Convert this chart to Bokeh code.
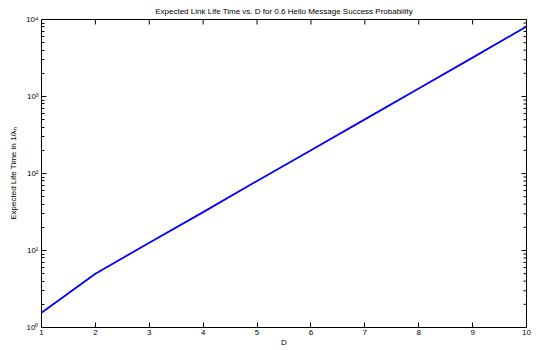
import math
from bokeh.plotting import figure
from bokeh.models import FixedTicker, Range1d
from bokeh.embed import file_html
from bokeh.resources import INLINE

# ---- data ----
D = [1, 2, 3, 4, 5, 6, 7, 8, 9, 10]
life_time = [1.55, 5.0, 12.6, 31.5, 80, 200, 505, 1270, 3200, 8100]

x_ticks = [1, 2, 3, 4, 5, 6, 7, 8, 9, 10]
y_ticks = [1, 10, 100, 1000, 10000]
y_tick_labels = ["10\u2070", "10\u00b9", "10\u00b2", "10\u00b3", "10\u2074"]
y_minor = [m * 10 ** k for k in range(4) for m in range(2, 10)]

title_text = "Expected Link Life Time vs. D for 0.6 Hello Message Success Probability"
x_label = "D"
y_label = "Expected Life Time in 1/\u03bb\u2095"

FONT = "Liberation Sans"
FS = "8px"

x_min, x_max = x_ticks[0], x_ticks[-1]
y_min, y_max = y_ticks[0], y_ticks[-1]

p = figure(width=537, height=350,
           x_range=Range1d(x_min, x_max), y_range=Range1d(y_min, y_max),
           y_axis_type="log", output_backend="svg",
           toolbar_location=None, tools="")
p.min_border_left = 41
p.min_border_right = 11
p.min_border_top = 18
p.min_border_bottom = 23
p.background_fill_color = "white"
p.border_fill_color = "white"
p.outline_line_color = "black"
p.outline_line_width = 1
p.xgrid.visible = False
p.ygrid.visible = False

p.title.text = title_text
p.title.align = "center"
p.title.text_font = FONT
p.title.text_font_size = FS
p.title.text_font_style = "normal"
p.title.text_color = "black"
p.title.offset = 0
p.title.standoff = 8

xt = FixedTicker(ticks=x_ticks, minor_ticks=[])
yt = FixedTicker(ticks=y_ticks, minor_ticks=y_minor)


def style(ax):
    ax.axis_line_color = "black"
    ax.axis_line_width = 1
    ax.major_tick_line_color = "black"
    ax.minor_tick_line_color = "black"
    ax.major_tick_in = 5
    ax.major_tick_out = 0
    ax.minor_tick_in = 3
    ax.minor_tick_out = 0
    ax.major_label_text_font = FONT
    ax.major_label_text_font_size = FS
    ax.major_label_text_color = "black"
    ax.major_label_standoff = 3
    ax.axis_label_text_font = FONT
    ax.axis_label_text_font_size = FS
    ax.axis_label_text_font_style = "normal"
    ax.axis_label_text_color = "black"


xa = p.xaxis[0]
xa.ticker = xt
style(xa)
xa.major_label_standoff = 2
xa.axis_label = x_label
xa.axis_label_standoff = 0

ya = p.yaxis[0]
ya.ticker = yt
style(ya)
ya.major_label_overrides = {float(t): l for t, l in zip(y_ticks, y_tick_labels)}
ya.axis_label = y_label
ya.axis_label_standoff = 5

# mirrored inward ticks on top and right edges (MATLAB box style)
p.ray(x=x_ticks, y=[y_max] * len(x_ticks), length=5, length_units="screen",
      angle=-math.pi / 2, line_color="black", line_width=1)
p.ray(x=[x_max] * len(y_ticks), y=y_ticks, length=5, length_units="screen",
      angle=math.pi, line_color="black", line_width=1)
p.ray(x=[x_max] * len(y_minor), y=y_minor, length=3, length_units="screen",
      angle=math.pi, line_color="black", line_width=1)

p.line(D, life_time, line_color="#0000ff", line_width=1.8)

open("out.html", "w").write(file_html(p, INLINE))
